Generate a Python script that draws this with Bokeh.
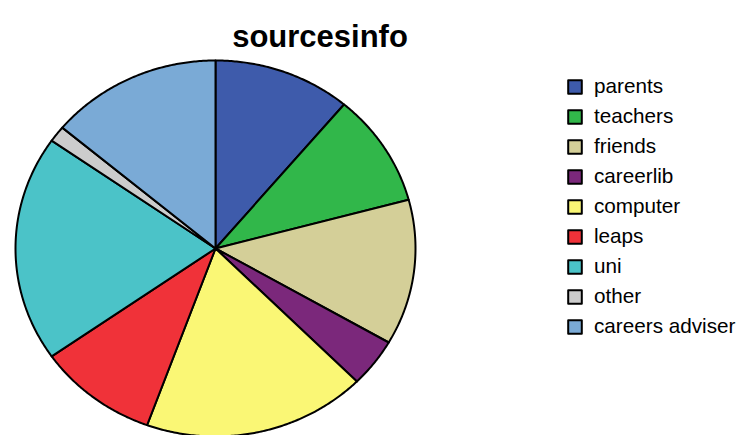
import numpy as np
from bokeh.plotting import figure
from bokeh.models import Range1d, Legend, LegendItem, Label
from bokeh.embed import file_html
from bokeh.resources import INLINE

categories = ["parents", "teachers", "friends", "careerlib", "computer",
              "leaps", "uni", "other", "careers adviser"]
counts = [8, 7, 9, 3, 13, 7, 14, 1, 10]
colors = ["#3e5bab", "#31b74a", "#d4cf98", "#7b287b", "#faf775",
          "#f03239", "#4bc3c8", "#cccccc", "#7aaad6"]
title = "sourcesinfo"

W, H = 736, 435
cx_px, cy_px = 215, 248      # pie centre in pixels (from top-left)
rx_px, ry_px = 200, 188      # pie radii in pixels

p = figure(width=W, height=H, output_backend="svg", toolbar_location=None,
           x_axis_location=None, y_axis_location=None, min_border=0,
           x_range=Range1d(-cx_px / rx_px, (W - cx_px) / rx_px),
           y_range=Range1d(-(H - cy_px) / ry_px, cy_px / ry_px))
p.grid.visible = False
p.outline_line_color = None
p.background_fill_color = "white"
p.border_fill_color = "white"

total = float(sum(counts))
edges = np.concatenate([[0.0], np.cumsum(counts)]) / total * 2 * np.pi

renderers = []
for i, (cat, col) in enumerate(zip(categories, colors)):
    a0, a1 = edges[i], edges[i + 1]
    n = max(4, int((a1 - a0) * 180 / np.pi * 2))
    t = np.linspace(a0, a1, n)
    # clockwise from 12 o'clock
    xs = np.concatenate([[0.0], np.sin(t), [0.0]])
    ys = np.concatenate([[0.0], np.cos(t), [0.0]])
    r = p.patch(xs, ys, fill_color=col, line_color="black", line_width=2,
                line_join="round")
    renderers.append(r)

items = [LegendItem(label=c, renderers=[r]) for c, r in zip(categories, renderers)]
legend = Legend(items=items, location=(566, 94), orientation="vertical",
                glyph_width=17, glyph_height=17, label_height=30,
                spacing=0, padding=0, margin=0, label_standoff=11,
                label_text_font="Liberation Sans", label_text_font_size="20.7px",
                label_text_color="black",
                border_line_color=None, background_fill_alpha=0)
p.add_layout(legend, "center")

p.add_layout(Label(x=319.5, y=H - 36, x_units="screen", y_units="screen",
                   text=title, text_align="center", text_baseline="alphabetic",
                   text_font="Liberation Sans", text_font_style="bold",
                   text_font_size="31px", text_color="black"))

open("out.html", "w").write(file_html(p, INLINE))
